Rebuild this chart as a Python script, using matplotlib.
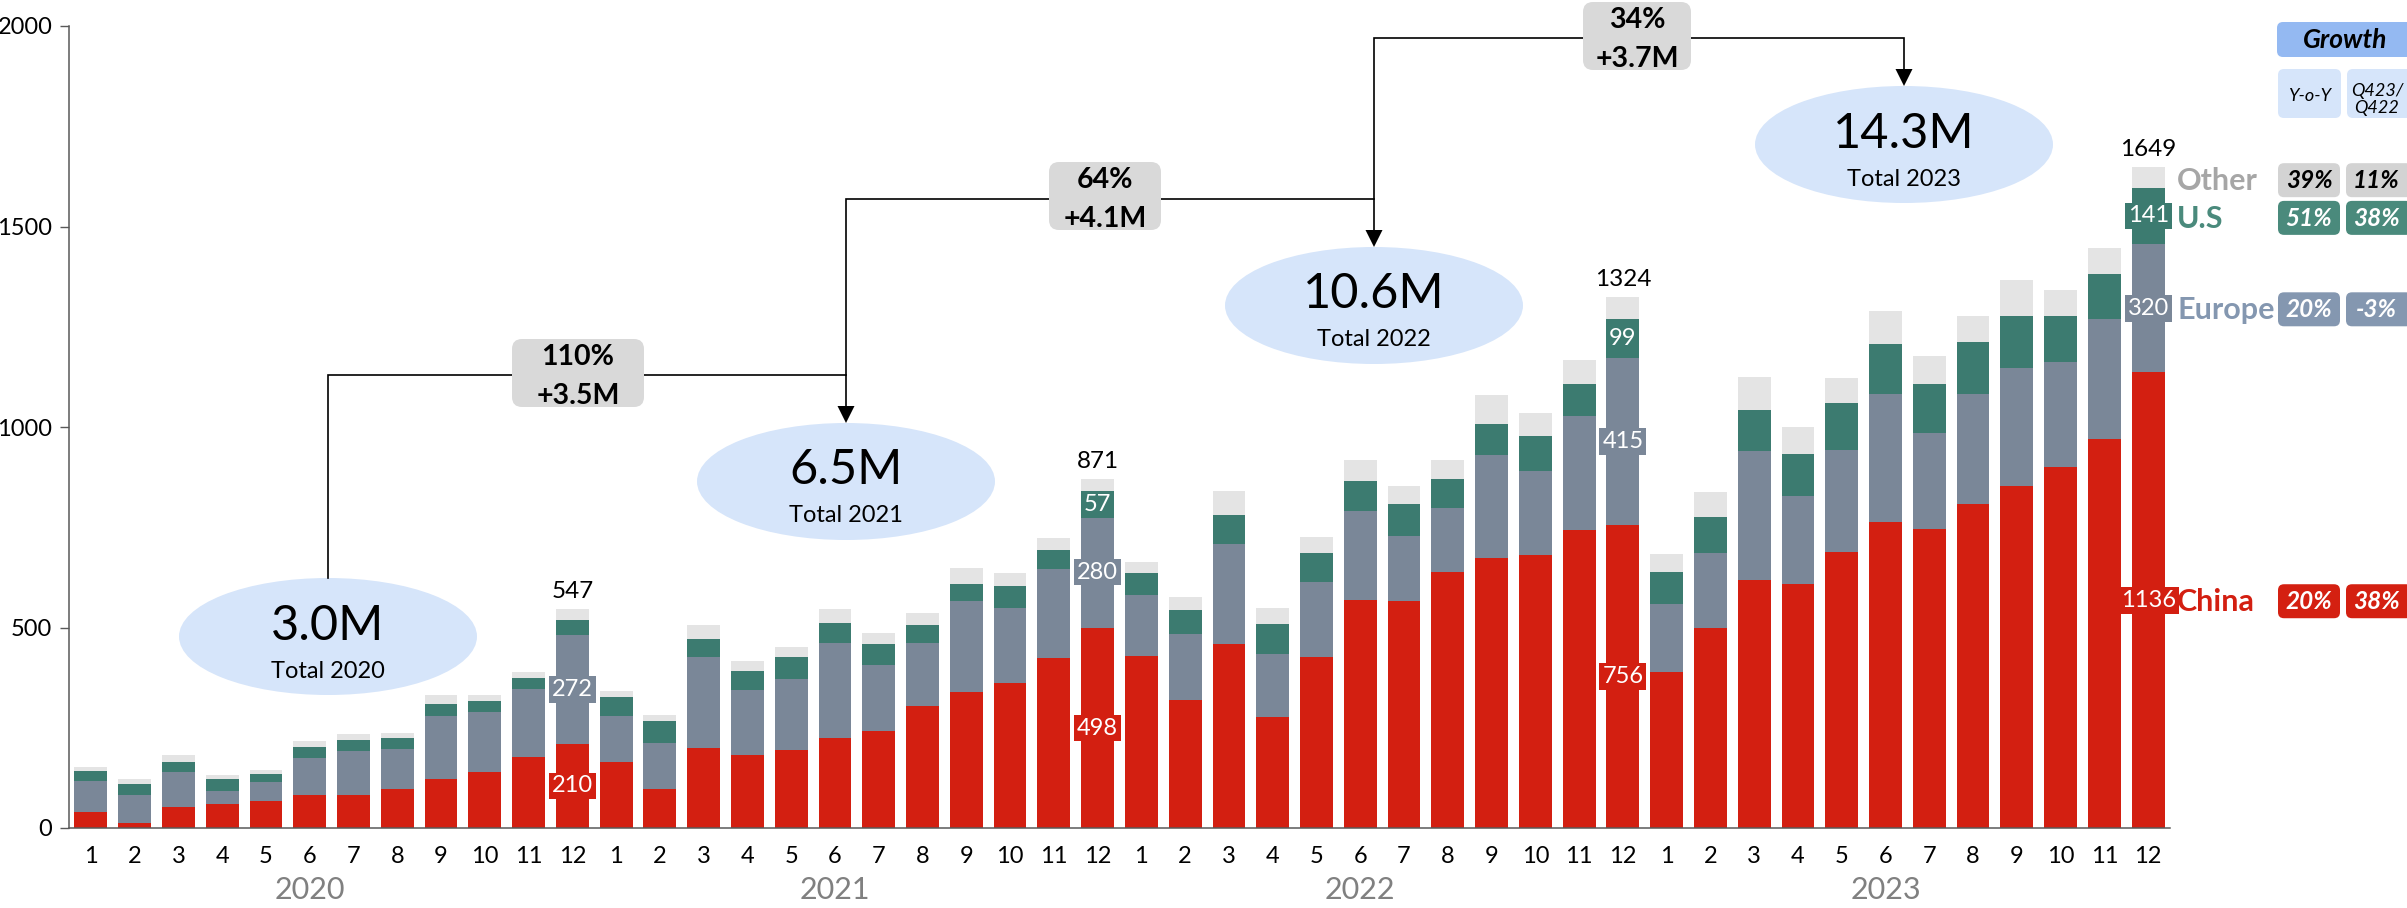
import matplotlib
matplotlib.use('Agg')
import matplotlib.pyplot as plt
from matplotlib.patches import Ellipse, FancyBboxPatch, Polygon
import numpy as np

plt.rcParams['font.family'] = ['Lato', 'DejaVu Sans']

# ---------------- data ----------------
years = ['2020', '2021', '2022', '2023']
months = [str(m) for m in range(1, 13)] * 4

china = [41, 13, 53, 61, 68, 83, 83, 98, 123, 140, 178, 210,
         165, 98, 200, 183, 195, 225, 243, 305, 340, 362, 425, 498,
         430, 320, 458, 278, 426, 569, 566, 638, 674, 681, 743, 756,
         390, 500, 618, 608, 689, 764, 745, 807, 852, 901, 971, 1136]
europe = [77, 70, 87, 32, 47, 92, 110, 100, 157, 150, 169, 272,
          115, 115, 227, 162, 177, 237, 164, 157, 227, 187, 222, 280,
          152, 163, 250, 157, 187, 222, 162, 160, 255, 210, 285, 415,
          168, 186, 323, 220, 254, 319, 239, 276, 294, 262, 299, 320]
us = [25, 27, 25, 30, 20, 28, 27, 27, 30, 27, 28, 37,
      47, 55, 45, 47, 55, 50, 53, 43, 42, 55, 47, 57,
      55, 60, 73, 73, 73, 75, 80, 73, 79, 87, 80, 99,
      80, 89, 102, 105, 116, 123, 122, 128, 132, 115, 112, 141]
other = [10, 13, 18, 10, 10, 15, 15, 12, 22, 15, 15, 28,
         15, 15, 33, 25, 25, 35, 27, 32, 40, 33, 30, 36,
         27, 32, 59, 41, 40, 52, 45, 47, 73, 56, 58, 54,
         45, 63, 81, 66, 64, 84, 70, 65, 89, 64, 65, 52]

annual_totals = ['3.0M', '6.5M', '10.6M', '14.3M']
annual_captions = ['Total 2020', 'Total 2021', 'Total 2022', 'Total 2023']
growth_pct = ['110%', '64%', '34%']
growth_abs = ['+3.5M', '+4.1M', '+3.7M']

regions = ['Other', 'U.S', 'Europe', 'China']
yoy = ['39%', '51%', '20%', '20%']
qoq = ['11%', '38%', '-3%', '38%']

# ---------------- style ----------------
C_CHINA = '#D31F11'
C_EUROPE = '#7A8798'
C_US = '#3C7B70'
C_OTHER = '#E4E4E4'
C_ELL = '#D6E5FA'
C_BOX = '#D9D9D9'
AX_COL = '#595959'

W, H = 2407, 908
fig = plt.figure(figsize=(W / 100, H / 100), dpi=100)
ax = fig.add_axes([69 / W, 1 - 828 / H, (2170 - 69) / W, (828 - 26) / H])

x = np.arange(len(china))
ch = np.array(china); eu = np.array(europe); u = np.array(us); ot = np.array(other)
bw = 0.75
ax.bar(x, ch, width=bw, color=C_CHINA, zorder=2)
ax.bar(x, eu, width=bw, bottom=ch, color=C_EUROPE, zorder=2)
ax.bar(x, u, width=bw, bottom=ch + eu, color=C_US, zorder=2)
ax.bar(x, ot, width=bw, bottom=ch + eu + u, color=C_OTHER, zorder=2)
tot = ch + eu + u + ot

ax.set_xlim(-0.5, len(x) - 0.5)
ax.set_ylim(0, 2000)
ax.set_yticks([0, 500, 1000, 1500, 2000])
ax.set_xticks(x)
ax.set_xticklabels(months)
ax.tick_params(axis='y', length=6.5, width=1.0, color=AX_COL, labelsize=17, pad=5.5)
ax.tick_params(axis='x', length=0, labelsize=17, pad=13)
for s in ['top', 'right']:
    ax.spines[s].set_visible(False)
for s in ['left', 'bottom']:
    ax.spines[s].set_color(AX_COL)
    ax.spines[s].set_linewidth(1.1)

# value labels on December bars
dec_idx = [11, 23, 35, 47]
for k, i in enumerate(dec_idx):
    ax.text(i, ch[i] / 2, str(ch[i]), ha='center', va='center', color='white', fontsize=17,
            bbox=dict(boxstyle='square,pad=0.12', fc=C_CHINA, ec='none'), zorder=4)
    ax.text(i, ch[i] + eu[i] / 2, str(eu[i]), ha='center', va='center', color='white', fontsize=17,
            bbox=dict(boxstyle='square,pad=0.12', fc=C_EUROPE, ec='none'), zorder=4)
    if k > 0:
        ax.text(i, ch[i] + eu[i] + u[i] / 2, str(u[i]), ha='center', va='center', color='white',
                fontsize=17, bbox=dict(boxstyle='square,pad=0.12', fc=C_US, ec='none'), zorder=4)
    ax.annotate(str(tot[i]), xy=(i, tot[i]), xytext=(0, 8), textcoords='offset points',
                ha='center', va='baseline', fontsize=17.5, color='black')

# ---------------- overlay (pixel coordinates, y from top) ----------------
ov = fig.add_axes([0, 0, 1, 1], zorder=5)
ov.set_xlim(0, W)
ov.set_ylim(0, H)
ov.axis('off')
ov.patch.set_alpha(0)


def P(y):
    return H - y


def px_x(i):
    return ax.transData.transform((i, 0))[0]


def px_y(v):
    return ax.transData.transform((0, v))[1]


# year labels
for k, yr in enumerate(years):
    ov.text(px_x(5 + 12 * k), P(899), yr, ha='center', va='baseline', fontsize=22, color='#808080')

# ellipses with annual totals
ell_cx = [328, 846, 1374, 1904]
ell_top = [578, 423, 247, 86]
EW, EH = 298, 117
for k in range(4):
    cy = ell_top[k] + EH / 2
    ov.add_patch(Ellipse((ell_cx[k], P(cy)), EW, EH, fc=C_ELL, ec='none', zorder=1))
    ov.text(ell_cx[k], P(cy + 3), annual_totals[k], ha='center', va='baseline', fontsize=35,
            color='black', zorder=3)
    ov.text(ell_cx[k], P(cy + 41), annual_captions[k], ha='center', va='baseline', fontsize=17,
            color='black', zorder=3)

# connectors
line_y = [375, 199, 38]
LW = 1.2
for k in range(3):
    x0, x1 = ell_cx[k], ell_cx[k + 1]
    y_start = ell_top[k] if k == 0 else line_y[k - 1]
    ov.plot([x0, x0, x1, x1], [P(y_start), P(line_y[k]), P(line_y[k]), P(ell_top[k + 1] - 15)],
            color='black', lw=LW, zorder=2, solid_joinstyle='miter')
    tip = ell_top[k + 1]
    ov.add_patch(Polygon([[x1 - 8.5, P(tip - 17)], [x1 + 8.5, P(tip - 17)], [x1, P(tip)]],
                         closed=True, fc='black', ec='none', zorder=2))

# growth boxes
box_c = [(578, 373), (1105, 196), (1637, 36)]
box_w = [132, 112, 108]
BH = 68
for k in range(3):
    cx, cy = box_c[k]
    ov.add_patch(FancyBboxPatch((cx - box_w[k] / 2, P(cy + BH / 2)), box_w[k], BH,
                                boxstyle='round,pad=0,rounding_size=10', fc=C_BOX, ec='none', zorder=3))
    ov.text(cx, P(cy - 8), growth_pct[k], ha='center', va='baseline', fontsize=20.5,
            fontweight='bold', color='black', zorder=4)
    ov.text(cx, P(cy + 31), growth_abs[k], ha='center', va='baseline', fontsize=20.5,
            fontweight='bold', color='black', zorder=4)

# right-hand table
ov.add_patch(FancyBboxPatch((2277, P(57)), 140, 35, boxstyle='round,pad=0,rounding_size=6',
                            fc='#94B9F2', ec='none', zorder=3))
ov.text(2345, P(48), 'Growth', ha='center', va='baseline', fontsize=19, fontweight='bold',
        style='italic', color='black', zorder=4)
for bx0, bx1 in [(2278, 2341), (2347, 2412)]:
    ov.add_patch(FancyBboxPatch((bx0, P(118)), bx1 - bx0, 49, boxstyle='round,pad=0,rounding_size=6',
                                fc=C_ELL, ec='none', zorder=3))
ov.text(2310, P(101), 'Y-o-Y', ha='center', va='baseline', fontsize=13, style='italic', zorder=4)
ov.text(2377, P(96), 'Q423/', ha='center', va='baseline', fontsize=13, style='italic', zorder=4)
ov.text(2377, P(113), 'Q422', ha='center', va='baseline', fontsize=13, style='italic', zorder=4)

last = len(china) - 1
row_vals = [ch[last] + eu[last] + u[last] + ot[last] / 2,
            ch[last] + eu[last] + u[last] / 2,
            ch[last] + eu[last] / 2,
            ch[last] / 2]
lab_col = ['#A6A6A6', '#4A8A7C', '#8497B0', C_CHINA]
box_col = ['#D3D3D3', '#4A8A7C', '#8497B0', '#D42011']
txt_col = ['black', 'white', 'white', 'white']
row_off = [3, 2, 1, 1]
for r in range(4):
    yc = px_y(row_vals[r]) - row_off[r]
    ov.text(2177, yc - 10, regions[r], ha='left', va='baseline', fontsize=22, fontweight='bold',
            color=lab_col[r], zorder=4)
    for (bx0, bx1), val in zip([(2278, 2340), (2346, 2412)], [yoy[r], qoq[r]]):
        ov.add_patch(FancyBboxPatch((bx0, yc - 17), bx1 - bx0, 34, boxstyle='round,pad=0,rounding_size=6',
                                    fc=box_col[r], ec='none', zorder=3))
        ov.text((bx0 + min(bx1, 2407)) / 2, yc - 8, val, ha='center', va='baseline', fontsize=17.5,
                fontweight='bold', style='italic', color=txt_col[r], zorder=4)

fig.savefig('out.png', dpi=100)
